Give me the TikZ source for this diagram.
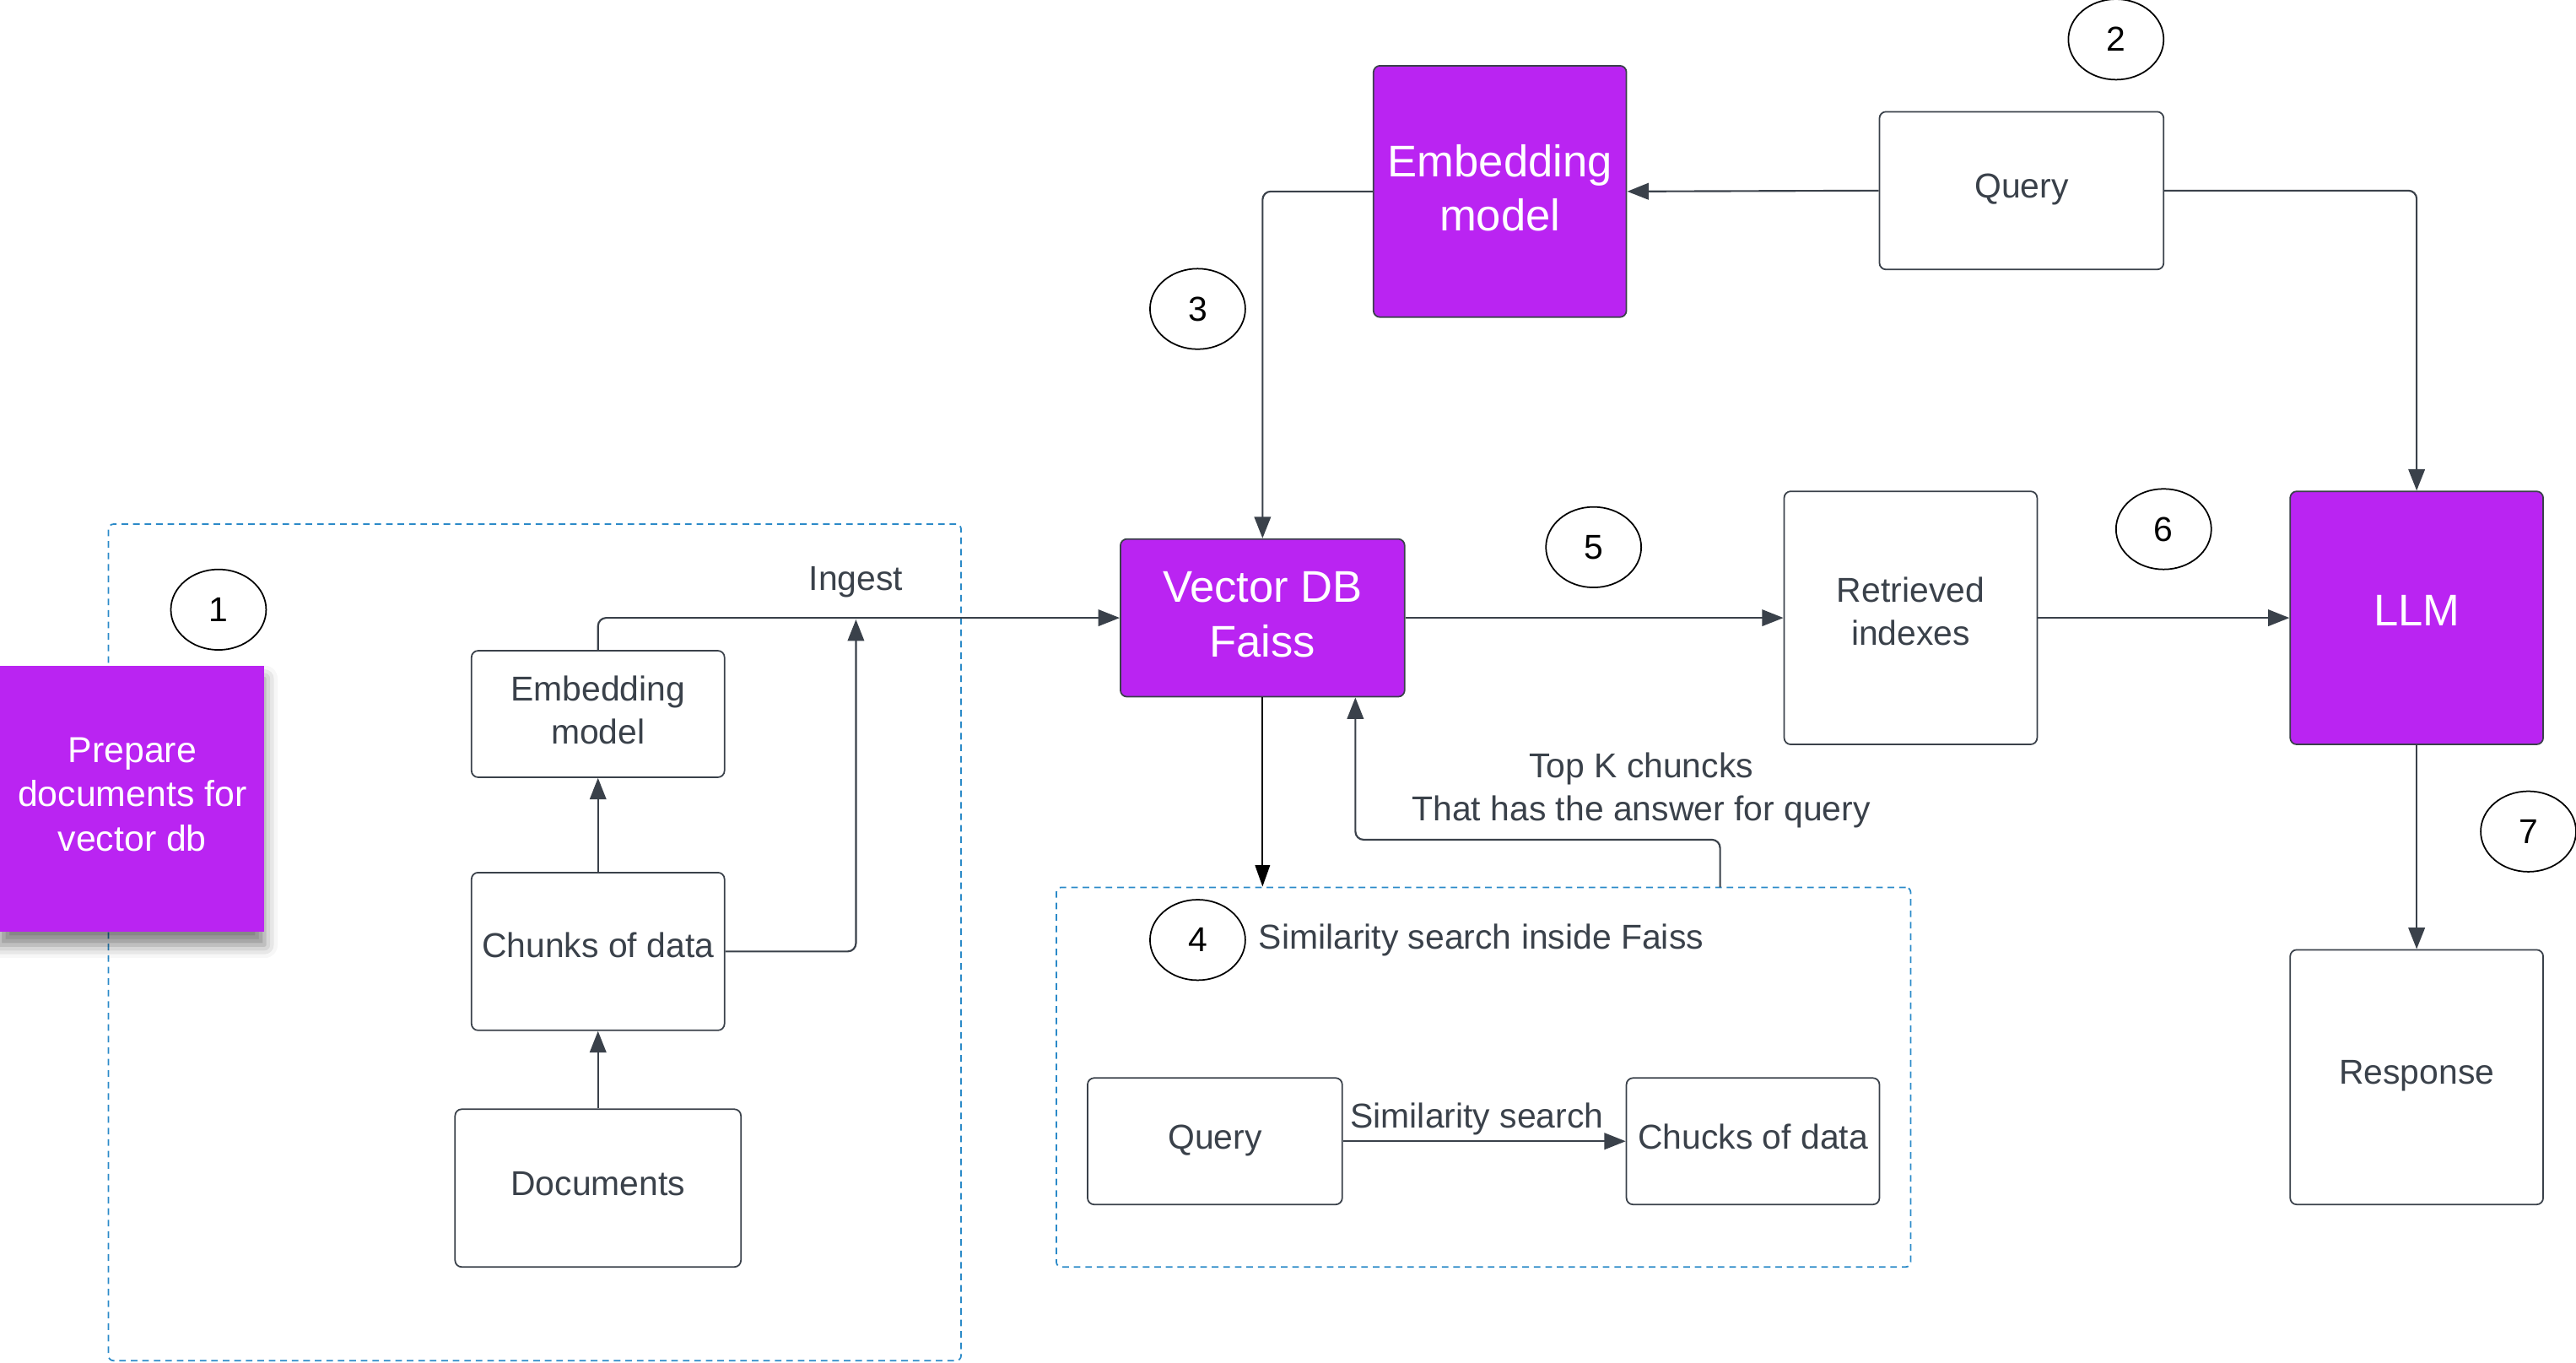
\documentclass[tikz,border=0pt]{standalone}
\usepackage{fontspec}
\setmainfont{Liberation Sans}
\usetikzlibrary{arrows.meta,shapes.geometric,shadows.blur,calc}
\definecolor{purp}{RGB}{186,36,242}
\definecolor{edge}{HTML}{3A414A}
\definecolor{blu}{HTML}{2B8AC8}
\begin{document}
\begin{tikzpicture}[x=1pt,y=-1pt,
  wbox/.style={draw=edge,fill=white,rounded corners=4pt,line width=0.9pt,text=edge,
    font=\fontsize{21}{26}\selectfont,align=center,inner sep=0pt,text height=15pt},
  pbox/.style={draw=edge,fill=purp,rounded corners=4pt,line width=0.9pt,text=white,
    font=\fontsize{27}{33}\selectfont,align=center,inner sep=0pt,text height=19.3pt},
  num/.style={ellipse,draw=black,line width=0.9pt,minimum width=58pt,minimum height=49pt,
    inner sep=0pt,font=\fontsize{21}{25}\selectfont},
  conn/.style={draw=edge,line width=1.1pt,rounded corners=5pt,
    -{Triangle[length=13pt,width=10pt]}},
  grp/.style={draw=blu,line width=0.9pt,dash pattern=on 4pt off 3pt,rounded corners=3pt,
    inner sep=0pt},
  lbl/.style={text=edge,font=\fontsize{21}{26}\selectfont,align=center,inner sep=0pt}
]
\useasboundingbox (0,0) rectangle (1568,829);

% groups
\node[grp,minimum width=519pt,minimum height=509pt] (grp1) at (325.5,573.5) {};
\node[grp,minimum width=520pt,minimum height=231pt] (grp2) at (903,655.5) {};

% prepare box
\node[fill=purp,text=white,inner sep=0pt,minimum width=161pt,minimum height=162pt,
  align=center,font=\fontsize{22}{27}\selectfont,text height=69.8pt,text depth=6pt,
  blur shadow={shadow xshift=0pt,shadow yshift=-8pt,shadow blur radius=8pt,shadow opacity=50}]
  (prep) at (80.5,486) {Prepare\\documents for\\vector db};

% left pipeline
\node[wbox,minimum width=154pt,minimum height=77pt,text height=41pt,text depth=5pt] (emb1) at (364,434.5) {Embedding\\model};
\node[wbox,minimum width=154pt,minimum height=96pt,text depth=8pt] (chunk) at (364,579) {Chunks of data};
\node[wbox,minimum width=174pt,minimum height=96pt,text depth=6pt] (docs) at (364,723) {Documents};

% main
\node[pbox,minimum width=173pt,minimum height=96pt,text height=52.3pt,text depth=5pt] (vdb) at (768.5,376) {Vector DB\\Faiss};
\node[pbox,minimum width=154pt,minimum height=153pt,text height=52.3pt,text depth=4pt] (embT) at (913,116.5) {Embedding\\model};
\node[wbox,minimum width=173pt,minimum height=96pt,text depth=6pt] (qT) at (1230.5,116) {Query};
\node[wbox,minimum width=154pt,minimum height=154pt,text height=41pt,text depth=8pt] (retr) at (1163,376) {Retrieved\\indexes};
\node[pbox,minimum width=154pt,minimum height=154pt,text depth=10pt] (llm) at (1471,376) {LLM};
\node[wbox,minimum width=154pt,minimum height=155pt,text depth=7pt] (resp) at (1471,655.5) {Response};

% similarity group content
\node[wbox,minimum width=155pt,minimum height=77pt,text depth=5pt] (qI) at (739.5,694.5) {Query};
\node[wbox,minimum width=154pt,minimum height=77pt,text depth=5pt] (chk) at (1067,694.5) {Chucks of data};

% numbers
\node[num] (n1) at (133,371) {1};
\node[num] (n2) at (1288,24) {2};
\node[num] (n3) at (729,188) {3};
\node[num] (n4) at (729,572) {4};
\node[num] (n5) at (970,333) {5};
\node[num] (n6) at (1317,322) {6};
\node[num] (n7) at (1539,506) {7};

% labels
\node[lbl] (ingest) at (521,354) {Ingest};
\node[lbl] (topk) at (999,481) {Top K chuncks\\That has the answer for query};
\node[lbl,anchor=west] (simin) at (766,572) {Similarity search inside Faiss};
\node[lbl] (simlbl) at (899,681) {Similarity search};

% connectors
\coordinate (ingestpt) at (521,377);
\coordinate (topkstart) at (1047,540);

\draw[conn] (docs.north) -- (chunk.south);
\draw[conn] (chunk.north) -- (emb1.south);
\draw[conn] (emb1.north) |- (vdb.west);
\draw[conn] (chunk.east) -| (ingestpt);
\draw[conn] (qT.west) -- (embT.east);
\draw[conn] (qT.east) -| (llm.north);
\draw[conn] (embT.west) -| (vdb.north);
\draw[conn] (vdb.east) -- (retr.west);
\draw[conn] (retr.east) -- (llm.west);
\draw[conn] (llm.south) -- (resp.north);
\draw[line width=0.9pt,draw=black,-{Triangle[length=13pt,width=9pt]}] (vdb.south) -- (vdb.south |- grp2.north);
\draw[conn] (topkstart) -- ++(0,-29) -| ([xshift=56.5pt]vdb.south);
\draw[conn] (qI.east) -- (chk.west);
\end{tikzpicture}
\end{document}
